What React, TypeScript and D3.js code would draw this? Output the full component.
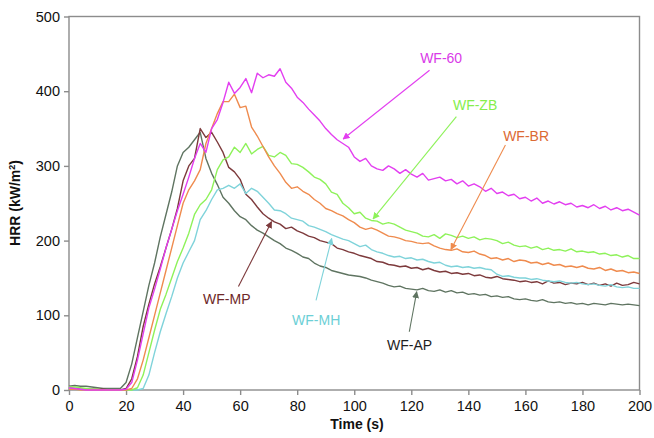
import React, { useEffect, useRef } from "react";
import * as d3 from "d3";

// sample times (s), one value every 2 s
const time = d3.range(0, 201, 2);

const wf60 = [3, 2, 1, 0, 0, 0, 0, 0, 0, 0, 1, 10, 40, 75, 110, 135, 162, 190, 215, 240,
  262, 285, 310, 330, 318, 350, 362, 385, 412, 397, 405, 417, 398, 424, 418, 422, 420, 430, 412, 404,
  392, 385, 376, 368, 360, 350, 342, 335, 330, 325, 312, 306, 310, 300, 296, 294, 300, 296, 290, 295,
  289, 285, 290, 281, 283, 285, 280, 282, 276, 280, 273, 276, 272, 266, 270, 263, 265, 260, 262, 256,
  258, 253, 257, 250, 253, 249, 252, 248, 250, 245, 247, 244, 248, 243, 246, 241, 244, 240, 242, 238, 234];

const wfZB = [4, 4, 3, 2, 1, 1, 0, 0, 0, 0, 0, 0, 3, 20, 50, 80, 108, 128, 150, 172,
  190, 210, 235, 248, 255, 268, 295, 308, 312, 325, 318, 330, 316, 322, 326, 314, 312, 318, 314, 303,
  302, 298, 292, 285, 282, 276, 265, 262, 250, 244, 236, 238, 230, 227, 226, 222, 224, 222, 218, 214,
  212, 210, 206, 205, 208, 203, 209, 207, 204, 206, 203, 205, 201, 203, 202, 200, 196, 198, 194, 192,
  193, 190, 192, 188, 190, 187, 188, 186, 189, 185, 186, 184, 185, 182, 183, 180, 181, 178, 180, 176, 176];

const wfBR = [1, 1, 0, 0, 0, 0, 0, 0, 0, 0, 0, 2, 15, 40, 70, 100, 130, 160, 190, 220,
  250, 268, 280, 295, 330, 350, 370, 386, 386, 396, 378, 380, 352, 340, 326, 312, 300, 290, 278, 270,
  272, 266, 262, 255, 250, 243, 240, 236, 233, 228, 224, 218, 215, 217, 214, 210, 206, 205, 203, 200,
  199, 197, 196, 197, 193, 190, 188, 187, 189, 185, 184, 186, 182, 180, 176, 177, 174, 176, 172, 174,
  173, 170, 171, 168, 170, 167, 168, 165, 166, 164, 166, 163, 162, 164, 160, 162, 159, 160, 157, 158, 156];

const wfMP = [3, 2, 1, 1, 1, 1, 1, 0, 0, 0, 2, 15, 45, 85, 115, 142, 165, 190, 215, 243,
  280, 300, 310, 350, 338, 345, 332, 318, 298, 292, 282, 262, 255, 245, 236, 230, 225, 222, 216, 218,
  213, 210, 206, 204, 200, 198, 196, 190, 188, 185, 183, 180, 178, 176, 172, 171, 168, 167, 165, 166,
  163, 164, 161, 163, 160, 158, 159, 156, 157, 155, 156, 153, 154, 151, 150, 152, 149, 148, 147, 145,
  146, 144, 145, 142, 146, 143, 144, 141, 143, 142, 144, 141, 143, 140, 142, 139, 143, 140, 141, 144, 142];

const wfMH = [2, 1, 0, 0, 0, 0, 0, 0, 0, 0, 0, 0, 0, 2, 20, 50, 78, 102, 125, 150,
  170, 185, 200, 228, 240, 255, 268, 270, 274, 270, 276, 263, 270, 266, 258, 250, 241, 240, 236, 230,
  228, 226, 220, 218, 215, 212, 208, 205, 202, 200, 196, 192, 194, 188, 185, 183, 180, 178, 179, 176,
  177, 174, 175, 172, 170, 171, 167, 165, 166, 164, 165, 163, 164, 162, 161, 155, 152, 153, 151, 150,
  150, 148, 149, 147, 146, 145, 146, 144, 143, 144, 142, 141, 142, 140, 139, 141, 138, 137, 138, 136, 136];

const wfAP = [5, 6, 5, 5, 4, 3, 2, 2, 2, 2, 10, 35, 70, 105, 140, 170, 205, 235, 265, 300,
  318, 325, 335, 345, 310, 290, 275, 258, 250, 240, 232, 228, 220, 214, 210, 205, 200, 196, 190, 187,
  183, 178, 176, 170, 166, 164, 160, 158, 156, 154, 153, 152, 150, 147, 145, 143, 140, 138, 139, 136,
  135, 134, 136, 133, 132, 134, 131, 133, 130, 131, 128, 129, 127, 128, 125, 126, 124, 125, 122, 121,
  122, 120, 119, 121, 118, 117, 118, 116, 117, 115, 116, 114, 116, 115, 114, 116, 115, 114, 115, 114, 113];

const seriesNames = ["WF-AP", "WF-MP", "WF-MH", "WF-ZB", "WF-BR", "WF-60"];
const seriesValues = [wfAP, wfMP, wfMH, wfZB, wfBR, wf60];
const lineColors = ["#5f7461", "#7d3a3c", "#7fd3da", "#8ef25a", "#ef8b4e", "#e33ef0"];
const labelColors = ["#1e1e1e", "#6e2828", "#6ccfd6", "#86ee4c", "#dc6a34", "#d93ae8"];

// annotation label anchor and arrow (from -> to) in data units [time, HRR]
const labelPos = [[111.5, 53.5], [47, 115], [78.2, 87], [134.6, 374.8], [152.2, 333.3], [123.1, 437.8]];
const arrowFrom = [[119.3, 78], [59.4, 138.4], [86.6, 120], [135.8, 366], [153, 328], [126.4, 428]];
const arrowTo = [[121.9, 131.5], [71, 225.4], [92.1, 202.8], [106.6, 229], [133.9, 188], [96.1, 336]];

const xTicks = [0, 20, 40, 60, 80, 100, 120, 140, 160, 180, 200];
const yTicks = [0, 100, 200, 300, 400, 500];

export default function App() {
  const ref = useRef(null);
  const width = 654;
  const height = 438;

  useEffect(() => {
    const svg = d3.select(ref.current);
    svg.selectAll("*").remove();

    const x = d3.scaleLinear([0, 200], [69, 639.5]);
    const y = d3.scaleLinear([0, 500], [390, 16.5]);
    const font = "Arial, 'Liberation Sans', sans-serif";

    const defs = svg.append("defs");
    lineColors.forEach((c, i) => {
      defs.append("marker")
        .attr("id", "arr" + i)
        .attr("viewBox", "0 0 10 10")
        .attr("refX", 9)
        .attr("refY", 5)
        .attr("markerWidth", 7)
        .attr("markerHeight", 7)
        .attr("markerUnits", "userSpaceOnUse")
        .attr("orient", "auto")
        .append("path")
        .attr("d", "M0,0L10,5L0,10z")
        .attr("fill", c);
    });

    // frame
    svg.append("rect")
      .attr("x", x(0)).attr("y", y(500))
      .attr("width", x(200) - x(0)).attr("height", y(0) - y(500))
      .attr("fill", "none").attr("stroke", "#8c8c8c").attr("stroke-width", 1.4);

    const yAxis = svg.append("g")
      .attr("transform", `translate(${x(0)},0)`)
      .call(d3.axisLeft(y).tickValues(yTicks).tickSize(5).tickPadding(4));
    const xAxis = svg.append("g")
      .attr("transform", `translate(0,${y(0)})`)
      .call(d3.axisBottom(x).tickValues(xTicks).tickSize(5).tickPadding(6));

    [xAxis, yAxis].forEach(a => {
      a.select(".domain").remove();
      a.selectAll(".tick line").attr("stroke", "#8c8c8c").attr("stroke-width", 1.4);
      a.selectAll(".tick text")
        .attr("fill", "#111")
        .attr("font-family", font)
        .attr("font-size", 14.5);
    });

    svg.append("text")
      .attr("x", 357).attr("y", 429)
      .attr("text-anchor", "middle")
      .attr("font-family", font).attr("font-weight", "bold").attr("font-size", 14)
      .attr("fill", "#111")
      .text("Time (s)");

    const yl = svg.append("text")
      .attr("transform", "translate(20,203) rotate(-90)")
      .attr("text-anchor", "middle")
      .attr("font-family", font).attr("font-weight", "bold").attr("font-size", 14)
      .attr("fill", "#111");
    yl.append("tspan").text("HRR (kW/m");
    yl.append("tspan").attr("font-size", 9).attr("dy", -5).text("2");
    yl.append("tspan").attr("dy", 5).text(")");

    const line = d3.line()
      .x((d, i) => x(time[i]))
      .y(d => y(d));

    seriesValues.forEach((vals, i) => {
      svg.append("path")
        .attr("fill", "none")
        .attr("stroke", lineColors[i])
        .attr("stroke-width", 1.4)
        .attr("stroke-linejoin", "round")
        .attr("d", line(vals));
    });

    seriesNames.forEach((name, i) => {
      svg.append("line")
        .attr("x1", x(arrowFrom[i][0])).attr("y1", y(arrowFrom[i][1]))
        .attr("x2", x(arrowTo[i][0])).attr("y2", y(arrowTo[i][1]))
        .attr("stroke", lineColors[i])
        .attr("stroke-width", 1.1)
        .attr("marker-end", `url(#arr${i})`);
      svg.append("text")
        .attr("x", x(labelPos[i][0])).attr("y", y(labelPos[i][1]))
        .attr("font-family", font).attr("font-size", 14)
        .attr("fill", labelColors[i])
        .text(name);
    });
  }, []);

  return (
    <div style={{ position: "absolute", left: 0, top: 0 }}>
      <svg ref={ref} width={width} height={height} style={{ display: "block", background: "#fff" }} />
    </div>
  );
}
